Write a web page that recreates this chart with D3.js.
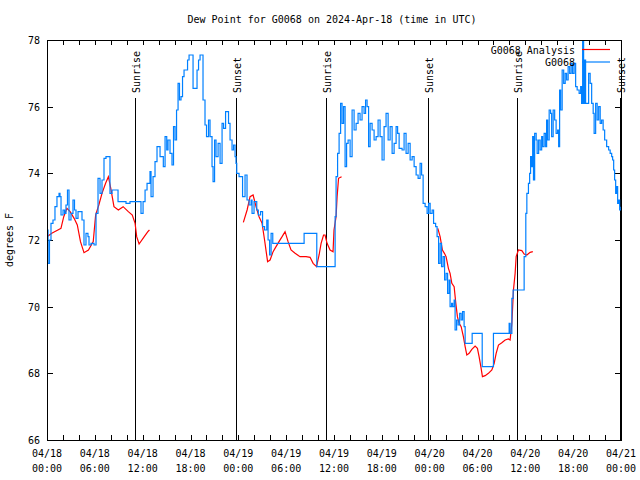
<!DOCTYPE html>
<html><head><meta charset="utf-8">
<script src="https://cdn.jsdelivr.net/npm/d3@7"></script>
<style>
body{margin:0;background:#fff}
svg{display:block}
text{font-family:"DejaVu Sans Mono","Liberation Mono",monospace;font-size:10px;fill:#000}
</style>
</head><body>
<svg id="chart" width="640" height="480"></svg>
<script>
// ---- data (hours after 2024-04-18 00:00 UTC) ----
const titleText = "Dew Point for G0068 on 2024-Apr-18 (time in UTC)";
const yLabel = "degrees F";
const seriesNames = ["G0068 Analysis", "G0068"];
const yTickValues = [66, 68, 70, 72, 74, 76, 78];

const obsHours = [0.00,0.13,0.31,0.50,0.75,1.00,1.25,1.51,1.63,1.76,2.01,2.20,2.38,2.57,2.76,3.01,3.26,3.45,3.64,3.89,4.14,4.39,4.64,4.89,5.14,5.27,5.52,5.90,6.15,6.40,6.65,6.90,7.15,7.40,7.65,7.90,8.16,8.53,8.91,9.41,9.91,10.41,10.92,11.54,11.79,12.05,12.30,12.55,12.92,13.05,13.30,13.55,13.80,13.99,14.18,14.59,
14.81,15.02,15.18,15.43,15.68,15.87,16.06,16.25,16.44,16.62,16.81,17.00,17.19,17.50,17.63,17.82,18.13,18.32,18.57,18.82,19.01,19.20,19.41,19.57,19.82,20.01,20.26,20.45,20.70,20.83,21.02,21.20,21.46,21.71,21.96,22.15,22.40,22.65,22.77,22.96,23.21,23.40,23.59,23.71,23.80,24.09,24.43,24.53,24.84,25.09,25.35,25.60,25.72,25.97,26.31,26.51,26.79,27.04,27.29,27.57,27.73,27.92,28.11,28.32,32.25,33.84,
36.14,36.26,36.45,36.64,36.83,37.01,37.20,37.39,37.58,37.77,38.02,38.27,38.52,38.77,39.02,39.27,39.52,39.77,39.96,40.15,40.34,40.53,40.78,41.03,41.28,41.53,41.78,42.03,42.28,42.53,42.79,43.04,43.29,43.54,43.79,43.98,44.17,44.54,44.79,45.04,45.30,45.55,45.80,46.05,46.30,46.55,46.80,46.99,47.18,47.43,47.68,47.87,
48.06,48.31,48.49,48.75,48.93,49.12,49.31,49.49,49.69,49.87,50.06,50.25,50.44,50.56,50.75,50.88,51.07,51.19,51.38,51.57,51.76,51.95,52.13,52.32,52.45,53.33,54.59,56.00,57.97,58.09,58.31,58.47,59.85,60.06,60.19,60.39,60.54,60.66,60.79,60.92,61.02,61.17,61.36,61.48,61.67,61.86,62.05,62.17,62.36,62.55,62.67,62.80,62.99,63.17,63.30,63.49,63.68,63.86,64.05,64.18,64.30,64.43,64.62,64.81,65.00,65.18,65.37,65.56,65.75,65.93,66.12,66.31,66.50,66.75,66.94,67.06,67.19,67.31,67.44,67.56,67.94,68.13,68.32,68.51,68.63,68.82,69.01,69.20,69.39,69.57,69.76,69.95,70.20,70.45,70.64,70.83,70.95,71.08,71.20,71.33,71.46,71.58,71.71,71.83,72.00];
const obsDew = [72.3,71.3,72.0,72.5,72.6,73.0,73.3,73.4,73.3,72.75,72.9,72.8,73.05,73.5,72.6,72.8,73.2,72.9,72.65,72.85,72.85,72.6,71.85,72.2,72.1,71.85,71.9,71.85,72.8,73.85,73.4,73.8,74.45,74.5,74.5,73.4,73.5,73.5,73.15,73.15,73.1,73.15,73.15,73.15,72.8,73.15,73.5,73.7,74.05,73.3,73.9,74.35,74.8,74.8,74.5,74.2,
75.1,74.7,75.0,74.6,74.25,75.4,75.0,75.9,76.7,76.2,76.3,76.9,77.1,77.1,77.4,77.55,77.55,76.55,76.55,77.1,77.4,77.55,77.55,76.2,75.45,75.1,75.6,75.1,74.2,73.75,75.0,74.5,74.9,74.3,75.5,75.35,75.85,75.85,75.5,75.0,74.7,74.85,74.5,74.3,74.0,73.9,73.9,73.3,73.95,73.2,73.05,73.2,72.8,73.15,72.9,72.75,72.85,72.4,72.3,72.6,72.0,71.55,72.2,71.9,72.2,71.2,
72.7,73.9,74.6,75.2,76.1,75.5,76.0,74.2,74.9,75.0,74.5,75.9,75.3,75.5,75.8,75.6,76.0,75.8,76.2,76.0,74.8,75.5,75.3,75.0,75.1,75.6,75.1,74.4,75.4,75.8,75.0,75.4,74.6,74.9,75.4,75.2,74.75,74.7,75.2,74.6,74.9,74.4,74.5,74.2,73.95,73.85,74.3,73.95,73.1,73.0,72.8,73.1,
72.8,72.9,72.5,72.4,72.1,71.3,71.9,71.2,71.5,70.8,71.0,70.4,70.8,70.0,70.1,70.0,70.2,69.3,69.6,69.45,69.8,69.6,69.85,69.4,68.9,69.2,68.2,69.2,69.5,69.2,70.25,70.5,71.5,72.8,73.4,73.7,74.0,74.5,74.2,75.1,73.8,75.2,75.0,74.6,75.0,74.7,75.1,74.8,75.2,74.8,75.6,75.0,75.9,75.8,75.1,75.9,75.6,75.2,75.3,74.8,76.5,75.9,77.1,76.7,77.0,76.8,77.2,77.0,77.3,77.0,77.3,76.6,76.5,76.4,76.6,76.1,78.0,76.1,77.4,76.1,77.0,76.7,76.1,75.8,75.2,76.1,75.6,76.0,75.5,75.6,75.3,75.0,74.8,74.7,74.6,74.5,74.4,74.1,73.8,73.4,73.6,73.1,73.2,72.9,73.0];

// analysis; null marks a gap
const anaHours = [0.0,0.6,1.6,1.75,2.1,2.5,2.9,3.4,3.8,4.2,4.64,5.2,5.8,6.1,6.5,6.9,7.35,7.7,8.0,8.4,8.95,9.55,10.2,10.7,11.05,11.25,11.55,12.2,12.65,12.85,
13.0,
24.63,25.1,25.47,25.85,26.22,26.6,26.98,27.29,27.67,27.98,28.36,28.73,29.1,29.49,29.86,30.24,30.61,31.12,31.74,32.5,33.0,33.38,33.81,34.13,34.38,34.69,34.88,35.13,35.51,35.88,36.0,36.26,36.39,36.57,36.95,
37.0,
49.02,49.31,49.6,49.85,50.06,50.35,50.56,50.78,51.07,51.28,51.48,51.69,51.95,52.23,52.45,52.66,52.95,53.29,53.7,53.99,54.2,54.42,54.62,54.96,55.37,55.8,56.09,56.34,56.63,57.05,57.47,57.88,58.09,58.31,58.51,58.72,58.85,59.13,59.56,59.85,60.19,60.6,60.94];
const anaDew = [72.1,72.2,72.33,72.35,72.7,72.95,72.85,72.65,72.45,71.95,71.62,71.7,71.95,72.75,73.05,73.4,73.7,73.9,73.55,73.0,72.9,73.0,72.85,72.75,72.5,72.1,71.88,72.1,72.25,72.3,
null,
72.53,72.9,73.3,73.35,73.0,72.7,72.5,72.0,71.35,71.4,71.65,71.8,71.95,72.1,72.25,71.95,71.7,71.6,71.5,71.5,71.48,71.3,71.2,71.55,71.9,72.15,72.15,71.9,71.7,71.65,72.3,72.7,73.3,73.85,73.9,
null,
72.35,72.1,71.7,71.6,71.5,71.15,71.0,70.7,70.6,70.1,69.7,69.5,69.4,69.1,68.8,68.55,68.6,68.72,68.82,68.75,68.5,68.2,67.9,67.93,68.0,68.1,68.3,68.6,68.85,68.92,69.0,69.03,69.0,69.5,70.5,71.0,71.5,71.7,71.68,71.58,71.55,71.63,71.65,71.65];

const sunHours = [11.05, 23.75, 35.05, 47.8, 59.0, 71.85];
const sunLabels = ["Sunrise", "Sunset", "Sunrise", "Sunset", "Sunrise", "Sunset"];

// ---- drawing ----
const start = Date.UTC(2024, 3, 18);
const toDate = h => new Date(start + h * 3600000);
const svg = d3.select("#chart");
const m = {l: 47, r: 621, t: 40, b: 440};

const x = d3.scaleUtc().domain([toDate(0), toDate(72)]).range([m.l, m.r]);
const y = d3.scaleLinear().domain([66, 78]).range([m.b, m.t]);

svg.append("defs").append("clipPath").attr("id", "clip")
  .append("rect").attr("x", m.l).attr("y", m.t).attr("width", m.r - m.l).attr("height", m.b - m.t);

// title
svg.append("text").attr("x", 332).attr("y", 23).attr("text-anchor", "middle").text(titleText);

// y label
svg.append("text").attr("transform", "translate(13,240) rotate(-90)")
  .attr("text-anchor", "middle").text(yLabel);

// ticks every 2 hours (top and bottom, inward)
const minor = x.ticks(d3.utcHour.every(2));
const tg = svg.append("g").attr("stroke", "#000").attr("stroke-width", 1).attr("shape-rendering", "crispEdges");
minor.forEach(d => {
  const px = Math.round(x(d)) + 0.5;
  tg.append("line").attr("x1", px).attr("x2", px).attr("y1", m.b).attr("y2", m.b - 5);
  tg.append("line").attr("x1", px).attr("x2", px).attr("y1", m.t).attr("y2", m.t + 5);
});
yTickValues.forEach(v => {
  const py = Math.round(y(v)) + 0.5;
  tg.append("line").attr("x1", m.l).attr("x2", m.l + 6).attr("y1", py).attr("y2", py);
  tg.append("line").attr("x1", m.r).attr("x2", m.r - 6).attr("y1", py).attr("y2", py);
});

// x labels every 6 hours
const fmtD = d3.utcFormat("%m/%d"), fmtT = d3.utcFormat("%H:%M");
x.ticks(d3.utcHour.every(6)).forEach(d => {
  const t = svg.append("text").attr("text-anchor", "middle");
  t.append("tspan").attr("x", x(d)).attr("y", 457).text(fmtD(d));
  t.append("tspan").attr("x", x(d)).attr("y", 472).text(fmtT(d));
});
// y labels
yTickValues.forEach(v => {
  svg.append("text").attr("x", 40).attr("y", y(v) + 4).attr("text-anchor", "end").text(v);
});

// sunrise / sunset lines
sunHours.forEach((h, i) => {
  const px = Math.round(x(toDate(h))) + 0.5;
  svg.append("line").attr("x1", px).attr("x2", px).attr("y1", 98).attr("y2", m.b)
    .attr("stroke", "#000").attr("stroke-width", 1).attr("shape-rendering", "crispEdges");
  svg.append("text").attr("transform", `translate(${px + 4},93) rotate(-90)`)
    .text(sunLabels[i]);
});

// data lines
const plot = svg.append("g").attr("clip-path", "url(#clip)");
const obs = obsHours.map((h, i) => [toDate(h), obsDew[i]]);
const ana = anaHours.map((h, i) => [toDate(h), anaDew[i]]);

plot.append("path").datum(ana)
  .attr("d", d3.line().defined(d => d[1] != null).x(d => x(d[0])).y(d => y(d[1])))
  .attr("fill", "none").attr("stroke", "#ff0000").attr("stroke-width", 1.2);

plot.append("path").datum(obs)
  .attr("d", d3.line().curve(d3.curveStepAfter).x(d => x(d[0])).y(d => y(d[1])))
  .attr("fill", "none").attr("stroke", "#0080ff").attr("stroke-width", 1.2);

// frame
svg.append("rect").attr("x", m.l + 0.5).attr("y", m.t + 0.5).attr("width", m.r - m.l).attr("height", m.b - m.t)
  .attr("fill", "none").attr("stroke", "#000").attr("stroke-width", 1).attr("shape-rendering", "crispEdges");

// legend
const legColors = ["#ff0000", "#0080ff"];
seriesNames.forEach((n, i) => {
  const ly = 50 + i * 12.5;
  svg.append("text").attr("x", 575).attr("y", ly + 3.5).attr("text-anchor", "end").text(n);
  svg.append("line").attr("x1", 582).attr("x2", 610).attr("y1", ly - 0.5).attr("y2", ly - 0.5)
    .attr("stroke", legColors[i]).attr("stroke-width", 1.2);
});
</script>
</body></html>
